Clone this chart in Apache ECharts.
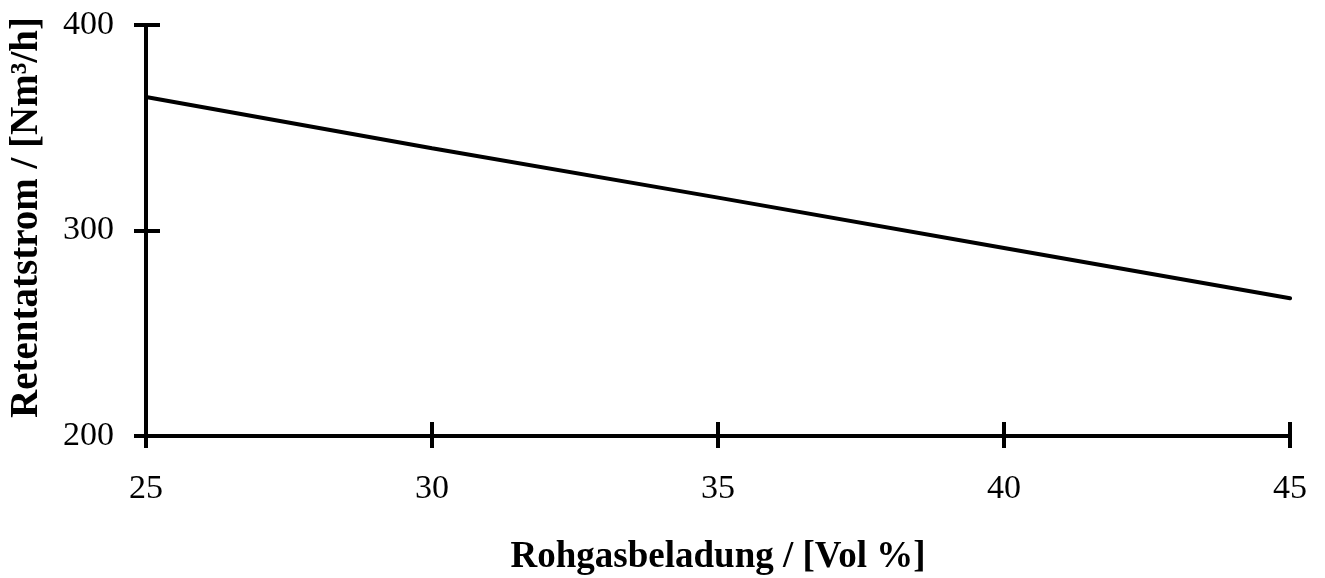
<!DOCTYPE html>
<html><head><meta charset="utf-8">
<script src="https://cdn.jsdelivr.net/npm/echarts@6/dist/echarts.min.js"></script>
<style>html,body{margin:0;padding:0;background:#fff}#c{width:1325px;height:578px}</style>
</head><body><div id="c"></div>
<script>
const xValues = [25, 30, 35, 40, 45];
const yValues = [365, 340, 316, 291.5, 267];
const xName = 'Rohgasbeladung / [Vol %]';
const yName = 'Retentatstrom / [Nm³/h]';

const font = 'Liberation Serif';
const chart = echarts.init(document.getElementById('c'), null, {renderer: 'canvas'});
const baseX = {type: 'value', min: 25, max: 45, interval: 5, splitLine: {show: false}};
const baseY = {type: 'value', min: 200, max: 400, interval: 100, splitLine: {show: false}};
chart.setOption({
  animation: false,
  backgroundColor: '#fff',
  grid: {left: 146, right: 35, top: 25, bottom: 142, outerBoundsMode: 'none', containLabel: false},
  xAxis: [
    Object.assign({}, baseX, {
      name: xName, nameLocation: 'middle', nameGap: 103,
      nameTextStyle: {fontFamily: font, fontSize: 37, fontWeight: 'bold', color: '#000'},
      axisLine: {lineStyle: {color: '#000', width: 4}},
      axisTick: {length: 12, lineStyle: {color: '#000', width: 4}},
      axisLabel: {fontFamily: font, fontSize: 34, color: '#000', margin: 36}
    }),
    Object.assign({}, baseX, {
      position: 'bottom',
      axisLine: {show: false},
      axisTick: {inside: true, length: 14, lineStyle: {color: '#000', width: 4}},
      axisLabel: {show: false}
    })
  ],
  yAxis: [
    Object.assign({}, baseY, {
      name: yName, nameLocation: 'middle', nameGap: 100,
      nameTextStyle: {fontFamily: font, fontSize: 39, fontWeight: 'bold', color: '#000', padding: [0, 0, 0, 26]},
      axisLine: {lineStyle: {color: '#000', width: 4}},
      axisTick: {length: 12, lineStyle: {color: '#000', width: 4}},
      axisLabel: {fontFamily: font, fontSize: 34, color: '#000', margin: 32}
    }),
    Object.assign({}, baseY, {
      position: 'left',
      axisLine: {show: false},
      axisTick: {inside: true, length: 14, lineStyle: {color: '#000', width: 4}},
      axisLabel: {show: false}
    })
  ],
  series: [{
    type: 'line',
    data: xValues.map((x, i) => [x, yValues[i]]),
    showSymbol: false,
    lineStyle: {color: '#000', width: 4, cap: 'round'},
    xAxisIndex: 0, yAxisIndex: 0
  }]
});
</script></body></html>
